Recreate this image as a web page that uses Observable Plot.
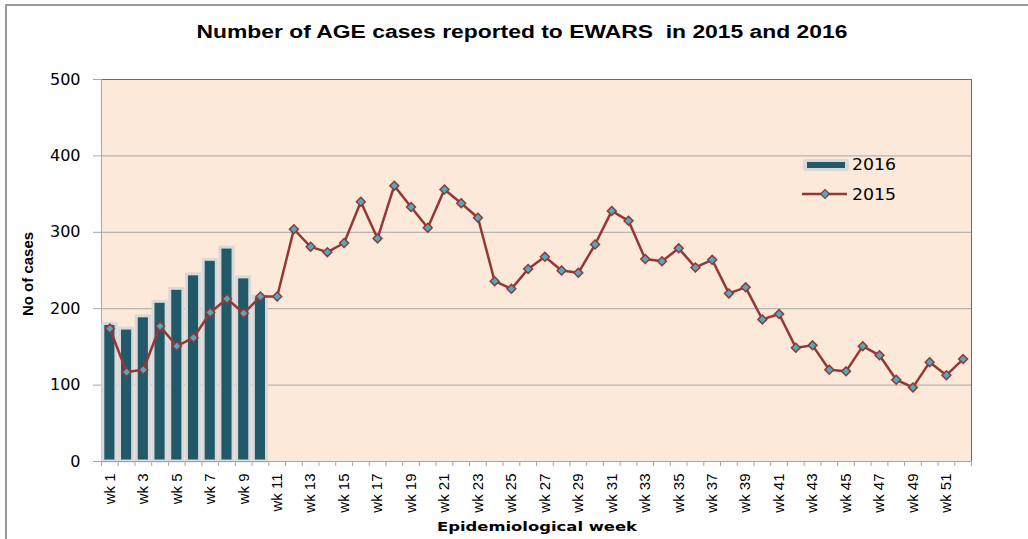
<!DOCTYPE html>
<html><head><meta charset="utf-8">
<script src="https://cdn.jsdelivr.net/npm/d3@7"></script>
<script src="https://cdn.jsdelivr.net/npm/@observablehq/plot@0.6"></script>
<style>body{margin:0;background:#fff} svg{display:block}</style>
</head><body><div id="chart"></div>
<script>
const weeks = ["wk 1","wk 2","wk 3","wk 4","wk 5","wk 6","wk 7","wk 8","wk 9","wk 10",
"wk 11","wk 12","wk 13","wk 14","wk 15","wk 16","wk 17","wk 18","wk 19","wk 20",
"wk 21","wk 22","wk 23","wk 24","wk 25","wk 26","wk 27","wk 28","wk 29","wk 30",
"wk 31","wk 32","wk 33","wk 34","wk 35","wk 36","wk 37","wk 38","wk 39","wk 40",
"wk 41","wk 42","wk 43","wk 44","wk 45","wk 46","wk 47","wk 48","wk 49","wk 50",
"wk 51","wk 52"];
const tickLabels = ["wk 1","wk 3","wk 5","wk 7","wk 9","wk 11","wk 13","wk 15","wk 17","wk 19",
"wk 21","wk 23","wk 25","wk 27","wk 29","wk 31","wk 33","wk 35","wk 37","wk 39",
"wk 41","wk 43","wk 45","wk 47","wk 49","wk 51"];
const weeks2016 = ["wk 1","wk 2","wk 3","wk 4","wk 5","wk 6","wk 7","wk 8","wk 9","wk 10"];
const cases2016 = [180, 174, 190, 209, 226, 245, 264, 280, 241, 216];
const cases2015 = [174, 117, 120, 177, 151, 162, 195, 213, 194, 216,
  216, 304, 281, 274, 286, 340, 292, 361, 333, 306,
  356, 338, 319, 236, 226, 252, 268, 250, 247, 284,
  328, 315, 265, 262, 279, 254, 264, 220, 228, 186,
  193, 149, 152, 120, 118, 151, 139, 107, 97, 130,
  113, 134];
const yTicks = [0, 100, 200, 300, 400, 500];

const bars = weeks2016.map((w, i) => ({week: w, cases: cases2016[i]}));
const line = weeks.map((w, i) => ({week: w, cases: cases2015[i]}));

const W = 1028, H = 539, mL = 101, mR = 57, mT = 79, mB = 78;
const bw = (W - mL - mR) / weeks.length;

const svg = Plot.plot({
  width: W, height: H, marginLeft: mL, marginRight: mR, marginTop: mT, marginBottom: mB,
  style: {background: "#fff", fontFamily: "DejaVu Sans", color: "#000"},
  x: {type: "band", domain: weeks, padding: 0, label: null},
  y: {domain: [0, 500], label: null},
  marks: [
    Plot.frame({fill: "#fde9d9"}),
    Plot.gridY([100, 200, 300, 400], {stroke: "#a6a6a6", strokeOpacity: 1}),
    Plot.frame({stroke: "#a5504e"}),
    Plot.frame({anchor: "left", stroke: "#a6a6a6"}),
    Plot.barY(bars, {x: "week", y: "cases", fill: "#215968", stroke: "#d9d9d9", strokeWidth: 3, insetLeft: 1.8, insetRight: 1.8}),
    Plot.line(line, {x: "week", y: "cases", stroke: "#953735", strokeWidth: 2.5}),
    Plot.dot(line, {x: "week", y: "cases", symbol: "diamond2", r: 4, fill: "#4bacc6", stroke: "#953735", strokeWidth: 1.5}),
    Plot.ruleY([0], {stroke: "#a6a6a6"}),
    Plot.axisY(yTicks, {tickSize: 8, tickPadding: 13, stroke: "#a6a6a6", fill: "#000", label: null}),
    Plot.axisX(weeks, {tickSize: 5, text: null, dx: -bw / 2, stroke: "#a6a6a6", label: null}),
    Plot.axisX(["wk 52"], {tickSize: 5, text: null, dx: bw / 2, stroke: "#a6a6a6", label: null}),
    Plot.axisX(tickLabels, {tickSize: 0, tickPadding: 12, tickRotate: -90, fill: "#000", label: null})
  ]
});

const s = d3.select(svg);
s.selectAll('g[aria-label="y-axis tick label"] text')
  .style("font-size", "16px").style("font-family", "DejaVu Sans");
s.selectAll('g[aria-label="x-axis tick label"] text')
  .style("font-size", "15px").style("font-family", "Liberation Sans");

s.append("rect").attr("x", 6).attr("y", 5).attr("width", 1060).attr("height", 580)
  .attr("fill", "none").attr("stroke", "#9a9a9a").attr("stroke-width", 2);
s.append("text").text("Number of AGE cases reported to EWARS  in 2015 and 2016")
  .attr("x", 522).attr("y", 38).attr("text-anchor", "middle")
  .attr("font-family", "Liberation Sans").attr("font-weight", "bold").attr("font-size", 17.5)
  .attr("textLength", 651).attr("lengthAdjust", "spacingAndGlyphs").attr("fill", "#000")
  .style("white-space", "pre");
s.append("text").text("No of cases")
  .attr("transform", "translate(33,274) rotate(-90)").attr("text-anchor", "middle")
  .attr("font-family", "Liberation Sans").attr("font-weight", "bold").attr("font-size", 15).attr("fill", "#000");
s.append("text").text("Epidemiological week")
  .attr("x", 537).attr("y", 531).attr("text-anchor", "middle")
  .attr("font-family", "DejaVu Sans").attr("font-weight", "bold").attr("font-size", 13)
  .attr("textLength", 200).attr("lengthAdjust", "spacingAndGlyphs").attr("fill", "#000");

// legend
const lg = s.append("g").attr("text-anchor", "start");
lg.append("rect").attr("x", 803).attr("y", 159).attr("width", 46).attr("height", 12).attr("rx", 2).attr("fill", "#d9d9d9");
lg.append("rect").attr("x", 807).attr("y", 162).attr("width", 38).attr("height", 6).attr("fill", "#215968");
lg.append("text").text("2016").attr("x", 852).attr("y", 170).attr("font-family", "DejaVu Sans").attr("font-size", 16).attr("fill", "#000")
  .attr("textLength", 44).attr("lengthAdjust", "spacingAndGlyphs");
lg.append("line").attr("x1", 802).attr("x2", 847).attr("y1", 194).attr("y2", 194).attr("stroke", "#953735").attr("stroke-width", 2.5);
lg.append("path").attr("d", "M825,189.5L829.5,194L825,198.5L820.5,194Z").attr("fill", "#4bacc6").attr("stroke", "#953735").attr("stroke-width", 1.2);
lg.append("text").text("2015").attr("x", 852).attr("y", 200).attr("font-family", "DejaVu Sans").attr("font-size", 16).attr("fill", "#000")
  .attr("textLength", 44).attr("lengthAdjust", "spacingAndGlyphs");

document.getElementById("chart").appendChild(svg);
</script></body></html>
